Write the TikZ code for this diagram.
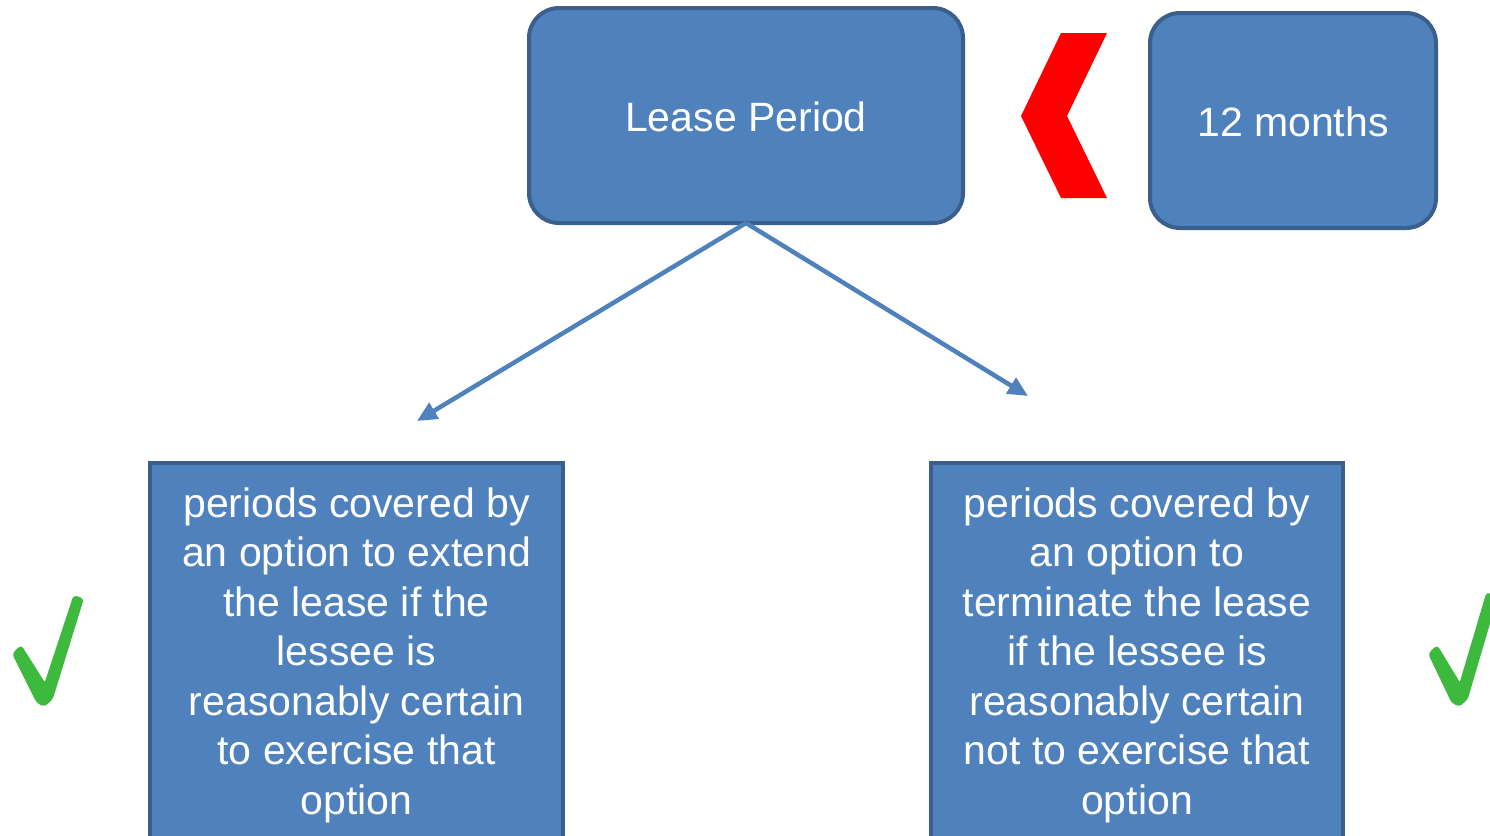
\documentclass[tikz,border=0pt]{standalone}
\usepackage{fontspec}
\setmainfont{Liberation Sans}
\usetikzlibrary{arrows.meta}
\definecolor{boxfill}{HTML}{4F81BD}
\definecolor{boxline}{HTML}{3A5F8C}
\definecolor{tickgreen}{HTML}{3DB93D}
\begin{document}
\begin{tikzpicture}[x=1pt,y=-1pt,
  roundbox/.style={draw=boxline,line width=4pt,fill=boxfill,rounded corners=30pt},
  squarebox/.style={draw=boxline,line width=4.5pt,fill=boxfill},
  label/.style={text=white,font=\fontsize{41}{49.5}\selectfont,align=center,inner sep=0pt},
  link/.style={draw=boxfill,line width=4.5pt,-{Triangle[length=20pt,width=18pt]}},
  tick/.style={fill=tickgreen,draw=tickgreen,line width=1.5pt,line join=round,rounded corners=3pt}]
\useasboundingbox (0,0) rectangle (1490,835);
\begin{scope}
\clip (0,0) rectangle (1490,835);

% top boxes
\draw[roundbox] (529,8) rectangle (963,223);
\node[label] (lease) at (746,117) {Lease Period};
\coordinate (leasefoot) at (746,223);

\draw[roundbox] (1150,13) rectangle (1436,228);
\node[label] (months) at (1293,122) {12 months};

% red chevron between the two top boxes
\fill[red] (1061,33) -- (1107,33) -- (1067,116) -- (1107,198) -- (1061,198) -- (1021,116) -- cycle;

% bottom boxes (running past the lower edge)
\draw[squarebox] (150,463) rectangle (563,860);
\node[label] (extend) at (356.5,655) {periods covered by\\an option to extend\\the lease if the\\lessee is\\reasonably certain\\to exercise that\\option};

\draw[squarebox] (931,463) rectangle (1343,860);
\node[label] (terminate) at (1137,655) {periods covered by\\an option to\\terminate the lease\\if the lessee is\\reasonably certain\\not to exercise that\\option};

% connectors
\coordinate (lefttip) at (417,421);
\coordinate (righttip) at (1028,396);
\draw[link] (leasefoot) -- (lefttip);
\draw[link] (leasefoot) -- (righttip);

% green ticks
\filldraw[tick] (13,654) -- (21,646) -- (45,684) -- (74,596) -- (83,599) -- (52,699) -- (44,706) -- (37,702) -- cycle;
\filldraw[tick] (1429,654) -- (1437,646) -- (1460,684) -- (1487,593) -- (1497,597) -- (1467,699) -- (1459,706) -- (1452,702) -- cycle;
\end{scope}
\end{tikzpicture}
\end{document}
